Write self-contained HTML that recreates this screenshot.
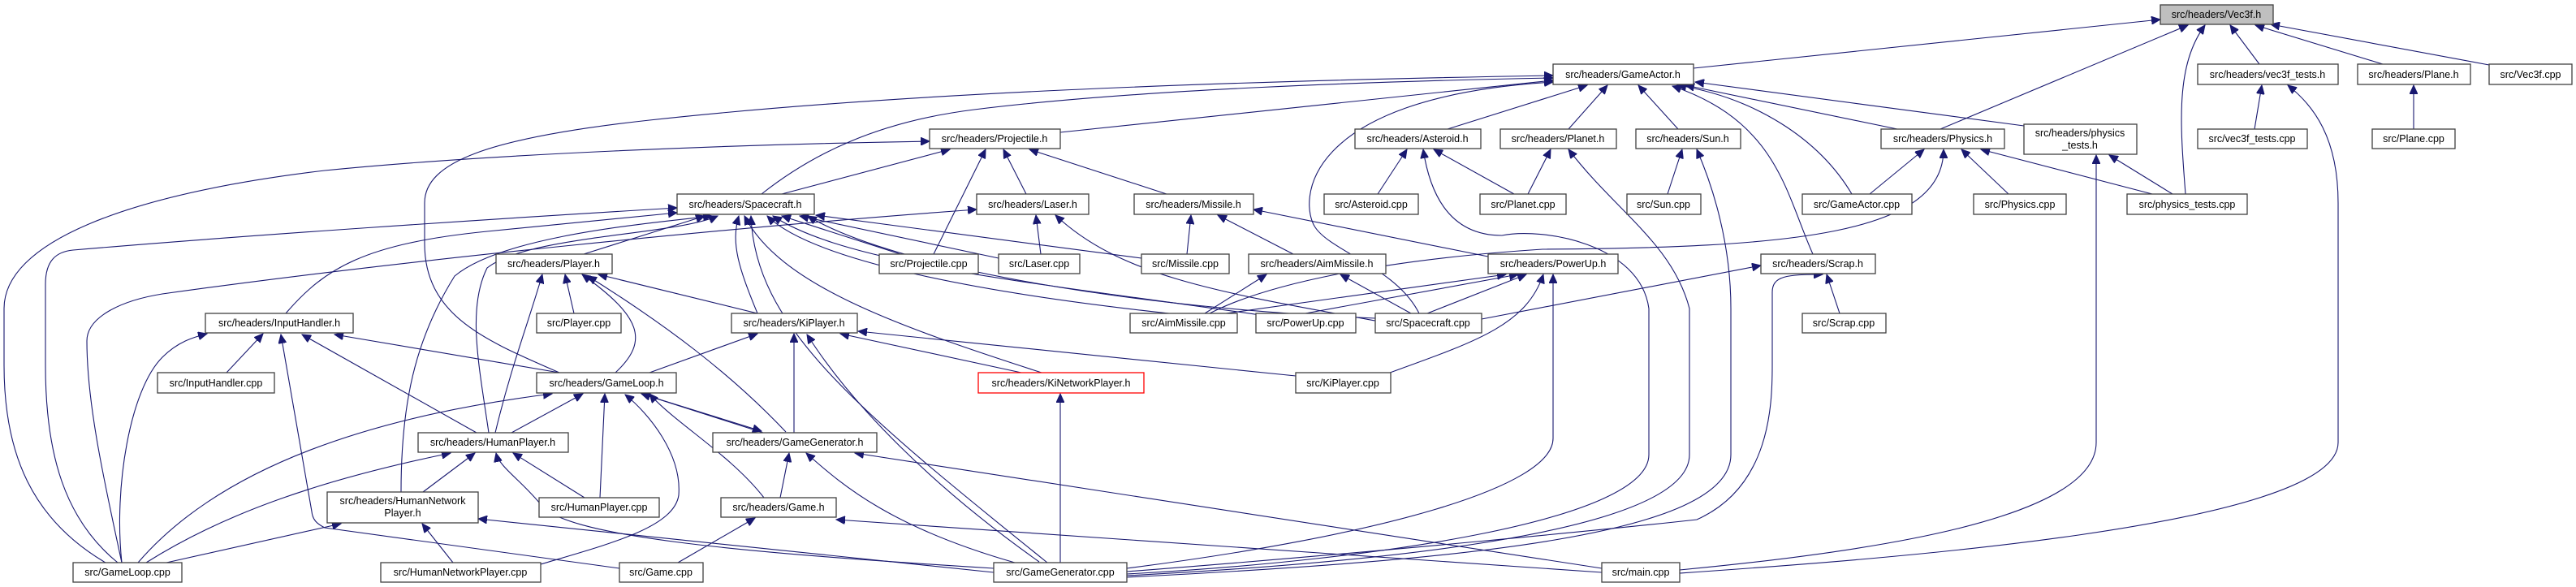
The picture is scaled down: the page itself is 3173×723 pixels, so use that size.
<!DOCTYPE html>
<html><head><meta charset="utf-8"><style>
html,body{margin:0;padding:0;background:#fff;}
svg{display:block;}
text{font-family:"Liberation Sans",Arial,sans-serif;font-size:12.5px;fill:#000;text-anchor:middle;}
.n{fill:#fff;stroke:#404040;stroke-width:1.3;}
.e{fill:none;stroke:#191970;stroke-width:1.1;marker-end:url(#a);}
</style></head><body>
<svg width="3173" height="723" viewBox="0 0 3173 723" xmlns="http://www.w3.org/2000/svg">
<defs><marker id="a" markerWidth="12" markerHeight="10" refX="11" refY="5" orient="auto" markerUnits="userSpaceOnUse"><path d="M0,0 L11,5 L0,10 z" fill="#191970" stroke="#191970"/></marker></defs>
<g>
<!-- Vec3f.h -->
<path class="e" d="M2086,84 L2661,24"/>
<path class="e" d="M2390,159 L2695,31"/>
<path class="e" d="M2692,239 C2685,150 2680,80 2716,31"/>
<path class="e" d="M2783,79 L2747,31"/>
<path class="e" d="M2935,79 L2778,31"/>
<path class="e" d="M3066,80 L2797,30"/>
<!-- vec3f_tests.h / Plane.h -->
<path class="e" d="M2777,159 L2786,105"/>
<path class="e" d="M2069,706 C2300,690 2880,650 2880,545 L2880,250 C2880,170 2850,130 2818,105"/>
<path class="e" d="M2973,159 L2973,105"/>
<!-- Physics.h -->
<path class="e" d="M2474,239 L2416,184"/>
<path class="e" d="M2651,239 L2440,184"/>
<path class="e" d="M2303,239 L2370,184"/>
<path class="e" d="M1490,386 C1560,350 1700,320 1900,307 C2200,305 2394,290 2394,184"/>
<!-- physics_tests.h -->
<path class="e" d="M2676,239 L2598,191"/>
<path class="e" d="M2069,702 C2300,680 2582,640 2582,545 L2582,191"/>
<path class="e" d="M2493,155 L2088,101"/>
<!-- GameActor.h -->
<path class="e" d="M1783,159 L1955,105"/>
<path class="e" d="M1932,159 L1980,105"/>
<path class="e" d="M2067,159 L2018,105"/>
<path class="e" d="M2337,159 L2076,105"/>
<path class="e" d="M2281,239 C2240,170 2160,120 2066,105"/>
<path class="e" d="M2233,313 C2200,240 2190,150 2060,106"/>
<path class="e" d="M1748,386 C1720,330 1640,310 1620,280 C1600,250 1600,120 1913,101"/>
<path class="e" d="M1306,163 L1913,99"/>
<path class="e" d="M938,239 C1000,190 1080,150 1200,135 C1400,110 1700,100 1913,96"/>
<path class="e" d="M689,459 C600,420 523,390 523,300 L523,250 C523,200 600,170 800,148 C1100,115 1500,100 1913,93"/>
<!-- Projectile.h -->
<path class="e" d="M130,693 C40,640 5,560 5,450 L5,380 C5,300 150,240 400,210 C600,190 900,178 1145,174"/>
<path class="e" d="M963,239 L1170,184"/>
<path class="e" d="M1150,313 L1214,184"/>
<path class="e" d="M1264,239 L1236,184"/>
<path class="e" d="M1437,239 L1268,184"/>
<!-- Spacecraft.h -->
<path class="e" d="M145,693 C80,640 56,560 56,450 L56,350 C56,320 70,310 90,308 C300,290 600,270 834,256"/>
<path class="e" d="M150,693 C130,600 107,500 107,420 C107,390 150,370 200,362 C500,320 900,280 1203,258"/>
<path class="e" d="M352,386 C400,330 450,300 600,285 C700,275 790,266 834,262"/>
<path class="e" d="M719,313 L868,266"/>
<path class="e" d="M494,606 C494,500 510,420 560,340 C620,290 800,275 877,266"/>
<path class="e" d="M602,533 C590,450 575,380 600,330 C650,290 830,290 884,266"/>
<path class="e" d="M933,386 C910,330 900,300 910,266"/>
<path class="e" d="M1283,459 C1100,400 960,350 917,266"/>
<path class="e" d="M1290,693 C1050,500 930,400 925,266"/>
<path class="e" d="M1109,313 L963,266"/>
<path class="e" d="M1230,318 L985,266"/>
<path class="e" d="M1406,318 L1005,265"/>
<path class="e" d="M1440,386 C1200,360 1000,320 945,266"/>
<path class="e" d="M1600,395 C1300,350 1050,330 952,266"/>
<path class="e" d="M1694,392 C1400,380 1100,330 995,266"/>
<!-- Laser.h -->
<path class="e" d="M1282,313 L1276,265"/>
<path class="e" d="M1694,395 C1500,360 1380,340 1300,265"/>
<!-- Missile.h -->
<path class="e" d="M1462,313 L1467,265"/>
<path class="e" d="M1593,313 L1500,265"/>
<path class="e" d="M1833,316 L1544,258"/>
<!-- AimMissile.h -->
<path class="e" d="M1484,386 L1560,338"/>
<path class="e" d="M1738,386 L1651,338"/>
<!-- PowerUp.h -->
<path class="e" d="M1510,386 L1855,338"/>
<path class="e" d="M1758,386 L1880,338"/>
<path class="e" d="M1712,459 C1820,420 1880,400 1901,338"/>
<path class="e" d="M1388,700 C1700,660 1913,600 1913,540 L1913,338"/>
<path class="e" d="M1608,386 L1870,338"/>
<!-- Scrap.h -->
<path class="e" d="M1825,393 L2169,327"/>
<path class="e" d="M2266,386 L2250,338"/>
<path class="e" d="M1388,704 C1700,680 2000,650 2090,640 C2180,600 2183,500 2183,450 L2183,360 C2183,340 2200,338 2245,338"/>
<!-- Asteroid/Planet/Sun -->
<path class="e" d="M1697,239 L1733,184"/>
<path class="e" d="M1865,239 L1766,184"/>
<path class="e" d="M1388,707 C1700,690 2031,640 2031,560 L2031,380 C2020,300 1900,280 1850,290 C1780,290 1760,230 1753,184"/>
<path class="e" d="M1882,239 L1910,184"/>
<path class="e" d="M1388,709 C1750,690 2081,650 2081,560 L2081,380 C2060,300 1990,260 1932,184"/>
<path class="e" d="M2054,239 L2072,184"/>
<path class="e" d="M1388,711 C1800,690 2132,660 2132,560 L2132,380 C2132,300 2110,230 2090,184"/>
<!-- Player.h -->
<path class="e" d="M707,386 L696,338"/>
<path class="e" d="M610,533 C630,450 650,400 668,338"/>
<path class="e" d="M758,459 C800,420 790,390 717,338"/>
<path class="e" d="M933,386 L737,338"/>
<path class="e" d="M968,532 C900,460 820,400 724,340"/>
<!-- InputHandler.h -->
<path class="e" d="M279,459 L324,411"/>
<path class="e" d="M150,693 C140,600 160,480 200,440 C220,420 240,415 255,411"/>
<path class="e" d="M763,700 L400,650 C390,645 385,640 384,630 L346,412"/>
<path class="e" d="M587,533 L372,412"/>
<path class="e" d="M689,459 L412,412"/>
<!-- GameLoop.h -->
<path class="e" d="M170,693 C250,600 400,520 680,485"/>
<path class="e" d="M630,533 L718,485"/>
<path class="e" d="M739,613 L745,485"/>
<path class="e" d="M940,533 L790,485"/>
<path class="e" d="M790,485 L938,531"/>
<path class="e" d="M941,613 C900,560 830,520 800,485"/>
<path class="e" d="M666,695 C750,670 830,650 836,610 C840,560 800,510 770,486"/>
<path class="e" d="M800,459 L933,411"/>
<!-- KiPlayer.h -->
<path class="e" d="M978,533 L978,411"/>
<path class="e" d="M1280,692 C1150,600 1050,500 994,412"/>
<path class="e" d="M1258,459 L1035,411"/>
<path class="e" d="M1596,463 L1057,408"/>
<!-- KiNetworkPlayer.h -->
<path class="e" d="M1306,693 L1306,485"/>
<!-- GameGenerator.h -->
<path class="e" d="M961,613 L972,558"/>
<path class="e" d="M1250,693 C1100,650 1040,600 993,558"/>
<path class="e" d="M1973,700 L1053,558"/>
<!-- Game.h -->
<path class="e" d="M835,693 L930,638"/>
<path class="e" d="M1973,705 L1030,640"/>
<!-- HumanPlayer.h -->
<path class="e" d="M521,606 L585,558"/>
<path class="e" d="M180,693 C280,630 400,590 555,558"/>
<path class="e" d="M720,613 L632,558"/>
<path class="e" d="M1224,700 C900,680 690,660 665,620 C640,590 615,575 611,558"/>
<!-- HumanNetworkPlayer.h -->
<path class="e" d="M205,693 L420,645"/>
<path class="e" d="M558,693 L520,645"/>
<path class="e" d="M1224,705 L589,639"/>
</g>
<g>
<rect x="2661" y="6" width="139" height="24" fill="#bfbfbf" stroke="#404040" stroke-width="1.3"/><text x="2730" y="22">src/headers/Vec3f.h</text>
<rect class="n" x="1913" y="79" width="173" height="25"/><text x="1999" y="96">src/headers/GameActor.h</text>
<rect class="n" x="2707" y="79" width="173" height="25"/><text x="2793" y="96">src/headers/vec3f_tests.h</text>
<rect class="n" x="2904" y="79" width="139" height="25"/><text x="2973" y="96">src/headers/Plane.h</text>
<rect class="n" x="3066" y="79" width="102" height="25"/><text x="3117" y="96">src/Vec3f.cpp</text>
<rect class="n" x="1145" y="159" width="161" height="24"/><text x="1225" y="175">src/headers/Projectile.h</text>
<rect class="n" x="1669" y="159" width="155" height="24"/><text x="1746" y="175">src/headers/Asteroid.h</text>
<rect class="n" x="1848" y="159" width="143" height="24"/><text x="1919" y="175">src/headers/Planet.h</text>
<rect class="n" x="2015" y="159" width="129" height="24"/><text x="2079" y="175">src/headers/Sun.h</text>
<rect class="n" x="2317" y="159" width="152" height="24"/><text x="2393" y="175">src/headers/Physics.h</text>
<rect class="n" x="2493" y="153" width="139" height="37"/><text x="2562" y="168">src/headers/physics</text><text x="2562" y="183">_tests.h</text>
<rect class="n" x="2707" y="159" width="135" height="24"/><text x="2774" y="175">src/vec3f_tests.cpp</text>
<rect class="n" x="2922" y="159" width="102" height="24"/><text x="2973" y="175">src/Plane.cpp</text>
<rect class="n" x="834" y="239" width="169" height="25"/><text x="918" y="256">src/headers/Spacecraft.h</text>
<rect class="n" x="1203" y="239" width="138" height="25"/><text x="1272" y="256">src/headers/Laser.h</text>
<rect class="n" x="1397" y="239" width="147" height="25"/><text x="1470" y="256">src/headers/Missile.h</text>
<rect class="n" x="1631" y="239" width="116" height="25"/><text x="1689" y="256">src/Asteroid.cpp</text>
<rect class="n" x="1823" y="239" width="106" height="25"/><text x="1876" y="256">src/Planet.cpp</text>
<rect class="n" x="2004" y="239" width="91" height="25"/><text x="2049" y="256">src/Sun.cpp</text>
<rect class="n" x="2220" y="239" width="135" height="25"/><text x="2287" y="256">src/GameActor.cpp</text>
<rect class="n" x="2431" y="239" width="114" height="25"/><text x="2488" y="256">src/Physics.cpp</text>
<rect class="n" x="2620" y="239" width="148" height="25"/><text x="2694" y="256">src/physics_tests.cpp</text>
<rect class="n" x="611" y="313" width="143" height="24"/><text x="682" y="329">src/headers/Player.h</text>
<rect class="n" x="1083" y="313" width="122" height="24"/><text x="1144" y="329">src/Projectile.cpp</text>
<rect class="n" x="1230" y="313" width="100" height="24"/><text x="1280" y="329">src/Laser.cpp</text>
<rect class="n" x="1406" y="313" width="108" height="24"/><text x="1460" y="329">src/Missile.cpp</text>
<rect class="n" x="1538" y="313" width="169" height="24"/><text x="1622" y="329">src/headers/AimMissile.h</text>
<rect class="n" x="1833" y="313" width="160" height="24"/><text x="1913" y="329">src/headers/PowerUp.h</text>
<rect class="n" x="2169" y="313" width="141" height="24"/><text x="2239" y="329">src/headers/Scrap.h</text>
<rect class="n" x="253" y="386" width="182" height="24"/><text x="344" y="402">src/headers/InputHandler.h</text>
<rect class="n" x="661" y="386" width="104" height="24"/><text x="713" y="402">src/Player.cpp</text>
<rect class="n" x="901" y="386" width="155" height="24"/><text x="978" y="402">src/headers/KiPlayer.h</text>
<rect class="n" x="1392" y="386" width="132" height="24"/><text x="1458" y="402">src/AimMissile.cpp</text>
<rect class="n" x="1547" y="386" width="123" height="24"/><text x="1608" y="402">src/PowerUp.cpp</text>
<rect class="n" x="1694" y="386" width="131" height="24"/><text x="1759" y="402">src/Spacecraft.cpp</text>
<rect class="n" x="2220" y="386" width="103" height="24"/><text x="2271" y="402">src/Scrap.cpp</text>
<rect class="n" x="194" y="459" width="144" height="25"/><text x="266" y="476">src/InputHandler.cpp</text>
<rect class="n" x="661" y="459" width="172" height="25"/><text x="747" y="476">src/headers/GameLoop.h</text>
<rect x="1205" y="459" width="204" height="25" fill="#fff" stroke="#ff0000" stroke-width="1.3"/><text x="1307" y="476">src/headers/KiNetworkPlayer.h</text>
<rect class="n" x="1596" y="459" width="117" height="25"/><text x="1654" y="476">src/KiPlayer.cpp</text>
<rect class="n" x="515" y="533" width="185" height="24"/><text x="607" y="549">src/headers/HumanPlayer.h</text>
<rect class="n" x="878" y="533" width="202" height="24"/><text x="979" y="549">src/headers/GameGenerator.h</text>
<rect class="n" x="403" y="606" width="186" height="38"/><text x="496" y="621">src/headers/HumanNetwork</text><text x="496" y="636">Player.h</text>
<rect class="n" x="664" y="613" width="148" height="24"/><text x="738" y="629">src/HumanPlayer.cpp</text>
<rect class="n" x="888" y="613" width="142" height="24"/><text x="959" y="629">src/headers/Game.h</text>
<rect class="n" x="90" y="693" width="134" height="24"/><text x="157" y="709">src/GameLoop.cpp</text>
<rect class="n" x="469" y="693" width="197" height="24"/><text x="567" y="709">src/HumanNetworkPlayer.cpp</text>
<rect class="n" x="763" y="693" width="103" height="24"/><text x="814" y="709">src/Game.cpp</text>
<rect class="n" x="1224" y="693" width="164" height="24"/><text x="1306" y="709">src/GameGenerator.cpp</text>
<rect class="n" x="1973" y="693" width="96" height="24"/><text x="2021" y="709">src/main.cpp</text>
</g>
</svg>
</body></html>
